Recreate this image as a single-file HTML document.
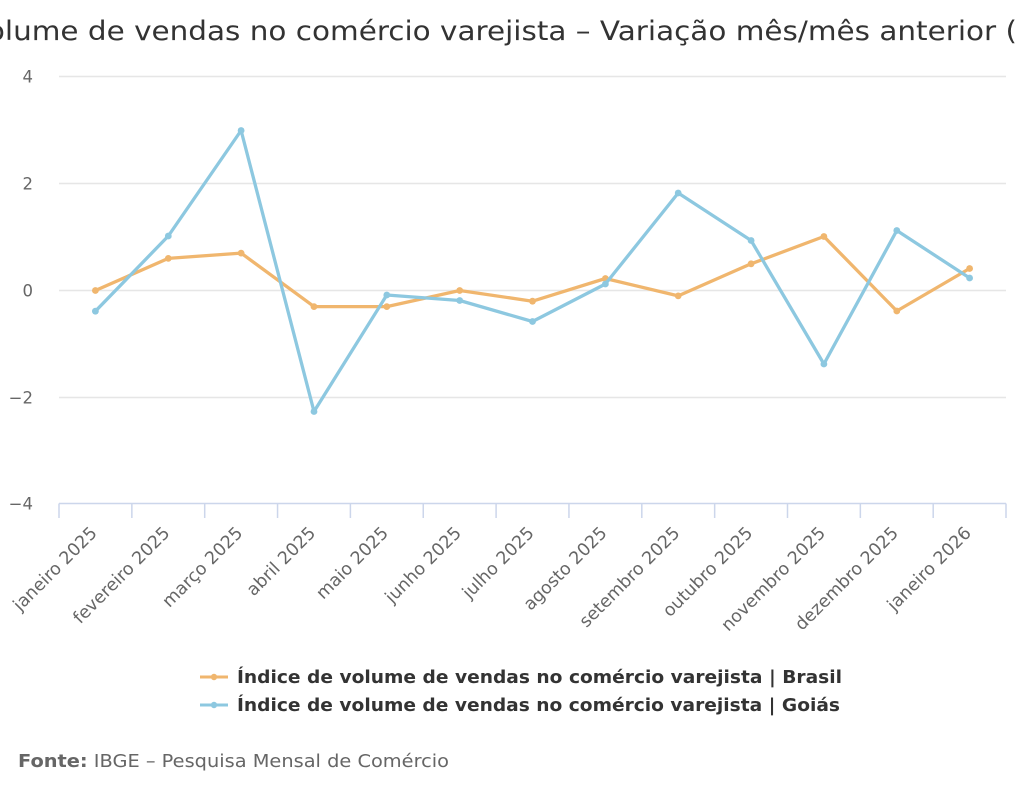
<!DOCTYPE html>
<html>
<head>
<meta charset="utf-8">
<style>
  html,body{margin:0;padding:0;background:#fff;}
  svg{display:block;}
  text{font-family:"DejaVu Sans","Liberation Sans",sans-serif;}
</style>
</head>
<body>
<svg width="1024" height="794" viewBox="0 0 1024 794" xmlns="http://www.w3.org/2000/svg">
  <rect x="0" y="0" width="1024" height="794" fill="#ffffff"/>

  <!-- Title -->
  <text x="-31" y="40" font-size="27" fill="#333333" textLength="1048" lengthAdjust="spacingAndGlyphs">Volume de vendas no comércio varejista – Variação mês/mês anterior (</text>

  <!-- Grid lines -->
  <g stroke="#e6e6e6" stroke-width="1.5">
    <line x1="59" y1="76.5" x2="1006" y2="76.5"/>
    <line x1="59" y1="183.5" x2="1006" y2="183.5"/>
    <line x1="59" y1="290.5" x2="1006" y2="290.5"/>
    <line x1="59" y1="397.5" x2="1006" y2="397.5"/>
  </g>
  <!-- X axis -->
  <line x1="59" y1="503.5" x2="1006" y2="503.5" stroke="#ccd6eb" stroke-width="1.5"/>
  <g stroke="#ccd6eb" stroke-width="1.5">
    <line x1="59" y1="503.5" x2="59" y2="518"/>
    <line x1="131.85" y1="503.5" x2="131.85" y2="518"/>
    <line x1="204.7" y1="503.5" x2="204.7" y2="518"/>
    <line x1="277.55" y1="503.5" x2="277.55" y2="518"/>
    <line x1="350.4" y1="503.5" x2="350.4" y2="518"/>
    <line x1="423.25" y1="503.5" x2="423.25" y2="518"/>
    <line x1="496.1" y1="503.5" x2="496.1" y2="518"/>
    <line x1="568.95" y1="503.5" x2="568.95" y2="518"/>
    <line x1="641.8" y1="503.5" x2="641.8" y2="518"/>
    <line x1="714.65" y1="503.5" x2="714.65" y2="518"/>
    <line x1="787.5" y1="503.5" x2="787.5" y2="518"/>
    <line x1="860.35" y1="503.5" x2="860.35" y2="518"/>
    <line x1="933.2" y1="503.5" x2="933.2" y2="518"/>
    <line x1="1006" y1="503.5" x2="1006" y2="518"/>
  </g>

  <!-- Y labels -->
  <g font-size="16.5" fill="#666666" text-anchor="end">
    <text x="33" y="82.5">4</text>
    <text x="33" y="189.5">2</text>
    <text x="33" y="296.5">0</text>
    <text x="33" y="403.5">−2</text>
    <text x="33" y="509.5">−4</text>
  </g>

  <!-- X labels -->
  <g font-size="17.5" fill="#666666" text-anchor="end">
    <text transform="translate(98,534) rotate(-45)">janeiro 2025</text>
    <text transform="translate(170.8,534) rotate(-45)">fevereiro 2025</text>
    <text transform="translate(243.6,534) rotate(-45)">março 2025</text>
    <text transform="translate(316.5,534) rotate(-45)">abril 2025</text>
    <text transform="translate(389.3,534) rotate(-45)">maio 2025</text>
    <text transform="translate(462.2,534) rotate(-45)">junho 2025</text>
    <text transform="translate(535,534) rotate(-45)">julho 2025</text>
    <text transform="translate(607.9,534) rotate(-45)">agosto 2025</text>
    <text transform="translate(680.7,534) rotate(-45)">setembro 2025</text>
    <text transform="translate(753.6,534) rotate(-45)">outubro 2025</text>
    <text transform="translate(826.4,534) rotate(-45)">novembro 2025</text>
    <text transform="translate(899.3,534) rotate(-45)">dezembro 2025</text>
    <text transform="translate(972.1,534) rotate(-45)">janeiro 2026</text>
  </g>

  <!-- Series: Brasil (orange) -->
  <polyline fill="none" stroke="#f0b66e" stroke-width="3.3" stroke-linejoin="round" stroke-linecap="round"
    points="95.4,290.5 168.3,258.4 241.1,253.1 314,306.6 386.8,306.6 459.7,290.5 532.5,301.2 605.4,278.5 678.2,295.9 751.1,263.8 823.9,236.5 896.8,311 969.6,268.5"/>
  <g fill="#f0b66e">
    <circle cx="95.4" cy="290.5" r="3.4"/>
    <circle cx="168.3" cy="258.4" r="3.4"/>
    <circle cx="241.1" cy="253.1" r="3.4"/>
    <circle cx="314" cy="306.6" r="3.4"/>
    <circle cx="386.8" cy="306.6" r="3.4"/>
    <circle cx="459.7" cy="290.5" r="3.4"/>
    <circle cx="532.5" cy="301.2" r="3.4"/>
    <circle cx="605.4" cy="278.5" r="3.4"/>
    <circle cx="678.2" cy="295.9" r="3.4"/>
    <circle cx="751.1" cy="263.8" r="3.4"/>
    <circle cx="823.9" cy="236.5" r="3.4"/>
    <circle cx="896.8" cy="311" r="3.4"/>
    <circle cx="969.6" cy="268.5" r="3.4"/>
  </g>

  <!-- Series: Goiás (blue) -->
  <polyline fill="none" stroke="#8dc8e0" stroke-width="3.3" stroke-linejoin="round" stroke-linecap="round"
    points="95.4,311.2 168.3,236 241.1,130.5 314,411.5 386.8,295 459.7,300.5 532.5,321.5 605.4,284 678.2,193 751.1,240.5 823.9,364 896.8,230.5 969.6,278"/>
  <g fill="#8dc8e0">
    <circle cx="95.4" cy="311.2" r="3.4"/>
    <circle cx="168.3" cy="236" r="3.4"/>
    <circle cx="241.1" cy="130.5" r="3.4"/>
    <circle cx="314" cy="411.5" r="3.4"/>
    <circle cx="386.8" cy="295" r="3.4"/>
    <circle cx="459.7" cy="300.5" r="3.4"/>
    <circle cx="532.5" cy="321.5" r="3.4"/>
    <circle cx="605.4" cy="284" r="3.4"/>
    <circle cx="678.2" cy="193" r="3.4"/>
    <circle cx="751.1" cy="240.5" r="3.4"/>
    <circle cx="823.9" cy="364" r="3.4"/>
    <circle cx="896.8" cy="230.5" r="3.4"/>
    <circle cx="969.6" cy="278" r="3.4"/>
  </g>

  <!-- Legend -->
  <line x1="200" y1="677" x2="228" y2="677" stroke="#f0b66e" stroke-width="3"/>
  <circle cx="214" cy="677" r="3.2" fill="#f0b66e"/>
  <text x="237" y="683" font-size="18" font-weight="bold" fill="#333333" textLength="605" lengthAdjust="spacingAndGlyphs">Índice de volume de vendas no comércio varejista | Brasil</text>

  <line x1="200" y1="705" x2="228" y2="705" stroke="#8dc8e0" stroke-width="3"/>
  <circle cx="214" cy="705" r="3.2" fill="#8dc8e0"/>
  <text x="237" y="711" font-size="18" font-weight="bold" fill="#333333" textLength="603" lengthAdjust="spacingAndGlyphs">Índice de volume de vendas no comércio varejista | Goiás</text>

  <!-- Footer -->
  <text x="18" y="767" font-size="18" fill="#666666" textLength="431" lengthAdjust="spacingAndGlyphs"><tspan font-weight="bold">Fonte:</tspan> IBGE – Pesquisa Mensal de Comércio</text>
</svg>
</body>
</html>
